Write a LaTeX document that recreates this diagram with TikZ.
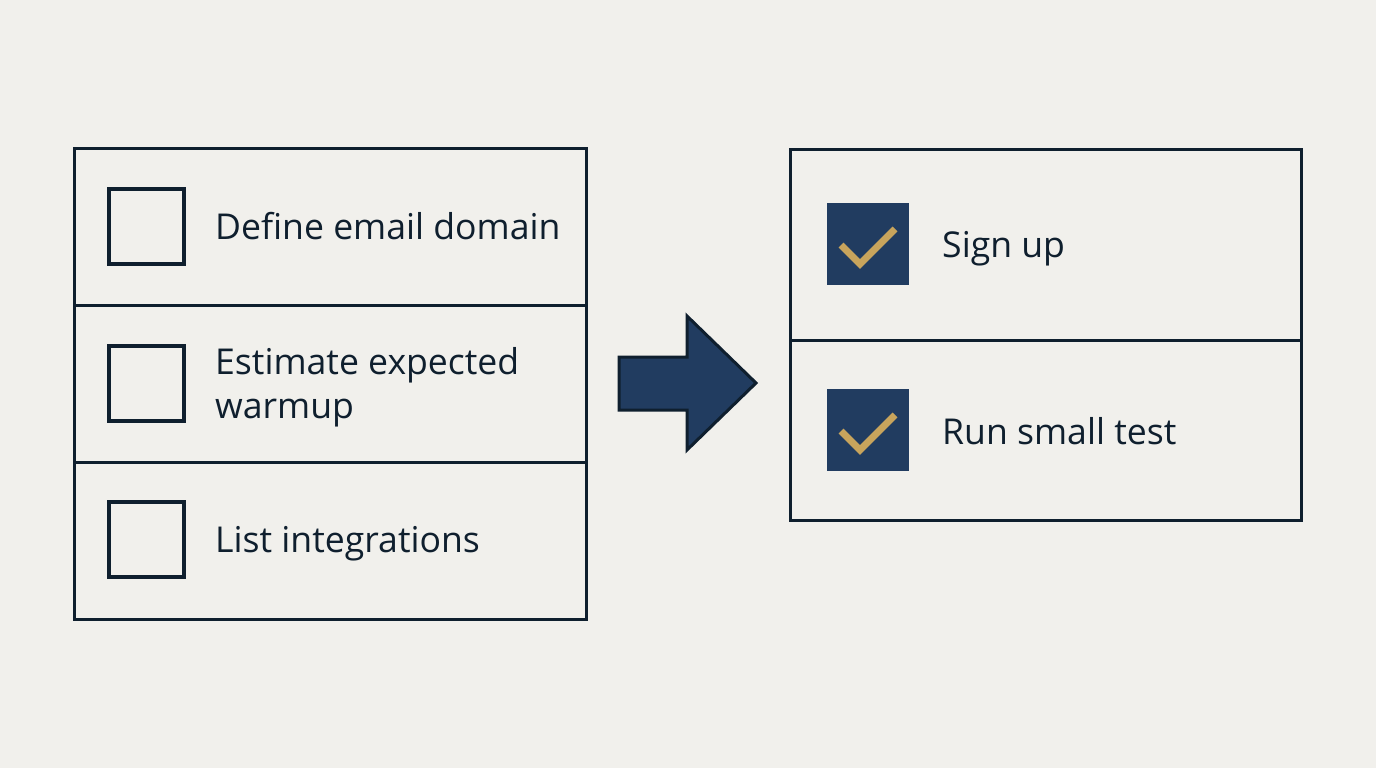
\documentclass[tikz,border=0pt]{standalone}
\usepackage{fontspec}
\setmainfont{Open Sans}
\definecolor{bg}{HTML}{F1F0EC}
\definecolor{ink}{HTML}{0F1F2E}
\definecolor{navy}{HTML}{213C60}
\definecolor{gold}{HTML}{C8A45C}
\begin{document}
\begin{tikzpicture}[x=1pt,y=-1pt,
  panel/.style={draw=ink,line width=3pt},
  box/.style={draw=ink,line width=3.5pt},
  donebox/.style={fill=navy},
  tick/.style={draw=gold,line width=7pt},
  lbl/.style={anchor=base west,inner sep=0pt,text=ink,font=\fontsize{35.6}{44}\selectfont}]
\fill[bg] (0,0) rectangle (1376,768);
\useasboundingbox (0,0) rectangle (1376,768);
% left panel
\draw[panel] (74,148) rectangle (586,619);
\draw[panel] (74,305) -- (586,305);
\draw[panel] (74,462) -- (586,462);
\draw[box] (109,189) rectangle (184,264);
\draw[box] (109,346) rectangle (184,421);
\draw[box] (109,502) rectangle (184,577);
\node[lbl] (t1) at (215,239) {Define email domain};
\node[lbl] (t2) at (215,374) {Estimate expected};
\node[lbl] (t2b) at (215,418) {warmup};
\node[lbl] (t3) at (215,552) {List integrations};
% arrow
\draw[fill=navy,draw=ink,line width=3pt,line join=miter]
  (619,357) -- (687,357) -- (687,316) -- (756,383) -- (687,450) -- (687,410) -- (619,410) -- cycle;
% right panel
\draw[panel] (790,149) rectangle (1301,520);
\draw[panel] (790,340) -- (1301,340);
\fill[donebox] (827,203) rectangle (909,285);
\fill[donebox] (827,389) rectangle (909,471);
\draw[tick,line cap=butt,line join=miter] (841,245) -- (860,264) -- (895,229);
\draw[tick,line cap=butt,line join=miter] (841,431) -- (860,450) -- (895,415);
\node[lbl] (s1) at (942,257) {Sign up};
\node[lbl] (s2) at (942,444) {Run small test};
\end{tikzpicture}
\end{document}
